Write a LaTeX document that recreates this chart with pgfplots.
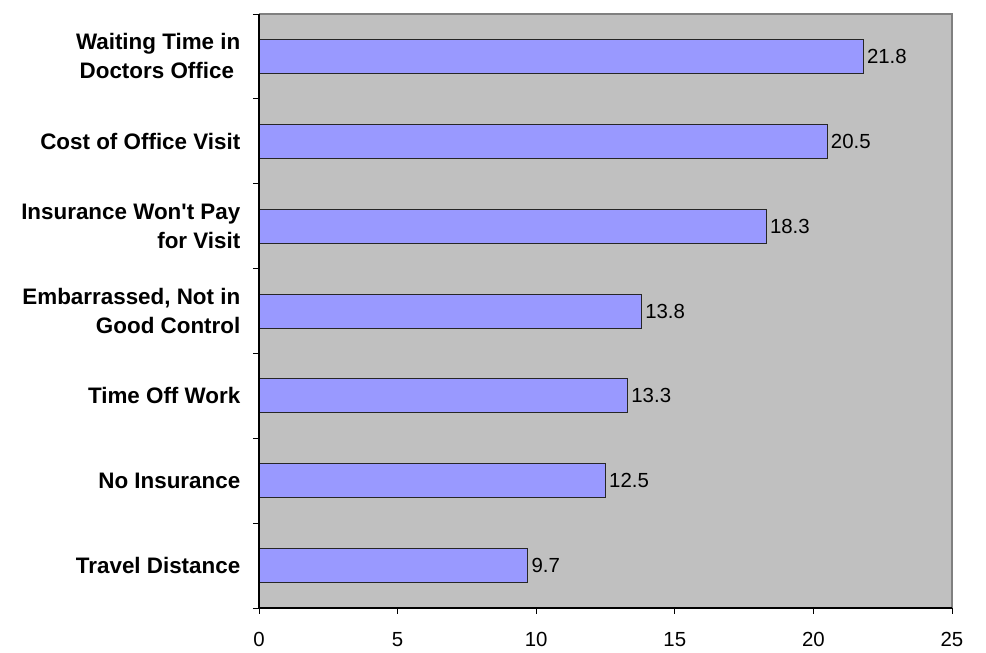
\documentclass[border=0pt]{standalone}
\usepackage{pgfplots}
\pgfplotsset{compat=1.18}
\usepackage{fontspec}
\setmainfont{Liberation Sans}
\definecolor{barfill}{HTML}{9999FF}
\definecolor{bgray}{HTML}{C0C0C0}
\definecolor{bordergray}{HTML}{808080}
\begin{document}
\begin{tikzpicture}
\useasboundingbox (-194.25pt,-33.75pt) rectangle (545.25pt,456pt);
\begin{axis}[
  at={(0pt,0pt)}, anchor=south west,
  scale only axis,
  width=519.75pt, height=445.5pt,
  xmin=0, xmax=25, ymin=-0.5, ymax=6.5,
  xtick={0,5,...,25},
  xtick pos=bottom, ytick pos=left,
  ytick={-0.5,0.5,...,6.5},
  yticklabels={},
  extra y ticks={0,...,6},
  extra y tick labels={Travel Distance, No Insurance, Time Off Work, {Embarrassed, Not in\\Good Control}, {Insurance Won\textquotesingle t Pay\\for Visit}, Cost of Office Visit, {Waiting Time in\\Doctors Office\hspace*{0.28em}}},
  extra y tick style={major tick length=0pt, tick style={draw=none}, yticklabel style={font=\bfseries\fontsize{16.8}{21.75}\selectfont, align=right, xshift=-10.5pt}},
  tick align=outside,
  major tick length=4.5pt,
  tick style={black, line width=0.6pt},
  xticklabel style={font=\fontsize{15.3}{18}\selectfont, yshift=-10pt},
  /pgf/number format/assume math mode=true,
  axis background/.style={fill=bgray},
  axis line style={draw=none},
  clip=false,
  xbar, bar width=0.4,
  nodes near coords,
  nodes near coords style={font=\fontsize{15.3}{18}\selectfont, anchor=west, inner sep=2.5pt, /pgf/number format/fixed, /pgf/number format/precision=1, /pgf/number format/fixed zerofill},
]
\addplot[fill=barfill, draw=black!85, line width=0.6pt] coordinates {
  (9.7,0) (12.5,1) (13.3,2) (13.8,3) (18.3,4) (20.5,5) (21.8,6)
};
\draw[bordergray, line width=0.8pt] (rel axis cs:0,1) -- (rel axis cs:1,1) -- (rel axis cs:1,0);
\draw[black, line width=0.8pt] (rel axis cs:0,1) -- (rel axis cs:0,0) -- (rel axis cs:1,0);
\end{axis}
\end{tikzpicture}
\end{document}
